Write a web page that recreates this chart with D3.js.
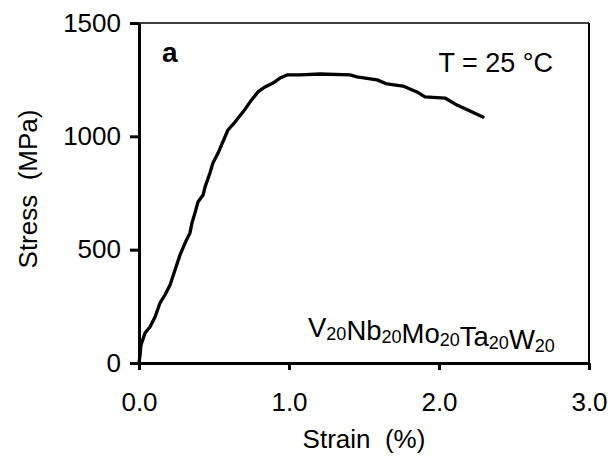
<!DOCTYPE html>
<html>
<head>
<meta charset="utf-8">
<script src="https://cdn.jsdelivr.net/npm/d3@7"></script>
<style>
  body { margin: 0; background: #fff; }
  svg { display: block; font-family: "Liberation Sans", Arial, sans-serif; }
  .pre { white-space: pre; }
</style>
</head>
<body>
<svg width="608" height="456"></svg>
<script>
// strain (%) vs stress (MPa)
const strain = [0, 0.007, 0.013, 0.018, 0.04, 0.073, 0.107, 0.14, 0.173, 0.207, 0.24, 0.273,
  0.307, 0.34, 0.353, 0.373, 0.393, 0.427, 0.44, 0.473, 0.493, 0.527, 0.573, 0.593, 0.64,
  0.693, 0.74, 0.793, 0.84, 0.893, 0.94, 0.987, 1.073, 1.207, 1.407, 1.453, 1.587, 1.653,
  1.76, 1.853, 1.907, 2.04, 2.12, 2.293];
const stress = [0, 35, 79, 88, 132, 159, 203, 265, 300, 344, 410, 476,
  529, 574, 618, 662, 710, 741, 776, 838, 882, 926, 997, 1028, 1063,
  1107, 1151, 1196, 1218, 1235, 1257, 1271, 1271, 1275, 1271, 1262, 1249, 1231,
  1222, 1196, 1174, 1169, 1138, 1085];
const xTicks = [0, 1, 2, 3];
const yTicks = [0, 500, 1000, 1500];

const svg = d3.select("svg");
const margin = {left: 139, top: 23};
const W = 450, H = 340;

const x = d3.scaleLinear().domain([0, 3]).range([margin.left, margin.left + W]);
const y = d3.scaleLinear().domain([0, 1500]).range([margin.top + H, margin.top]);

// frame (top / right thinner)
svg.append("line").attr("x1", x(0)).attr("x2", x(3)).attr("y1", y(1500)).attr("y2", y(1500))
  .attr("stroke", "#000").attr("stroke-width", 1.5);
svg.append("line").attr("x1", x(3)).attr("x2", x(3)).attr("y1", y(1500)).attr("y2", y(0))
  .attr("stroke", "#000").attr("stroke-width", 2);

const fs = 26;

const xAxis = svg.append("g").attr("transform", `translate(0,${y(0)})`)
  .call(d3.axisBottom(x).tickValues(xTicks).tickFormat(d3.format(".1f")).tickSizeInner(7).tickSizeOuter(0).tickPadding(23));
const yAxis = svg.append("g").attr("transform", `translate(${x(0)},0)`)
  .call(d3.axisLeft(y).tickValues(yTicks).tickFormat(d3.format("d")).tickSizeInner(9).tickSizeOuter(0).tickPadding(9));

[xAxis, yAxis].forEach(g => {
  g.select(".domain").attr("stroke", "#000").attr("stroke-width", 3);
  g.selectAll(".tick line").attr("stroke", "#000").attr("stroke-width", 3);
  g.selectAll(".tick text").attr("font-size", fs).attr("fill", "#000")
    .attr("font-family", "Liberation Sans, Arial, sans-serif");
});

// curve
const pts = strain.map((s, i) => [s, stress[i]]);
svg.append("path")
  .datum(pts)
  .attr("fill", "none")
  .attr("stroke", "#000")
  .attr("stroke-width", 3.3)
  .attr("stroke-linejoin", "round")
  .attr("stroke-linecap", "round")
  .attr("d", d3.line().x(d => x(d[0])).y(d => y(d[1])));

// axis titles
svg.append("text").attr("class", "pre").attr("x", 364).attr("y", 448).attr("text-anchor", "middle")
  .attr("font-size", fs).text("Strain  (%)");
svg.append("text").attr("class", "pre").attr("transform", "translate(37,189) rotate(-90)").attr("text-anchor", "middle")
  .attr("font-size", fs).text("Stress  (MPa)");

// annotations
svg.append("text").attr("x", 162).attr("y", 62).attr("font-size", 28).attr("font-weight", "bold").text("a");
svg.append("text").attr("x", 553).attr("y", 72).attr("text-anchor", "end").attr("font-size", 27).text("T = 25 °C");

const comp = svg.append("text").attr("x", 308).attr("y", 337).attr("font-size", 27.5);
[["V", "20"], ["Nb", "20"], ["Mo", "20"], ["Ta", "20"], ["W", "20"]].forEach(([el, n]) => {
  comp.append("tspan").attr("dy", 0).text(el);
  comp.append("tspan").attr("font-size", 18).attr("dy", 3).text(n);
  comp.append("tspan").attr("font-size", 1).attr("dy", -3).text("");
});
</script>
</body>
</html>
